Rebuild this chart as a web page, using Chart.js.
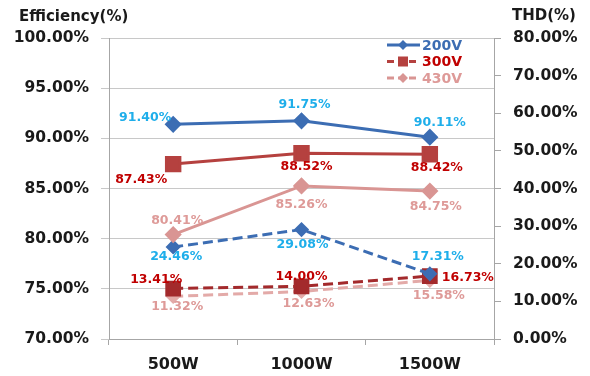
<!DOCTYPE html>
<html>
<head>
<meta charset="utf-8">
<script src="https://cdn.jsdelivr.net/npm/chart.js@4"></script>
<style>
  html, body { margin: 0; padding: 0; background: #ffffff; }
  #wrap { width: 590px; height: 376px; position: relative; }
</style>
</head>
<body>
<div id="wrap"><canvas id="c" width="590" height="376"></canvas></div>
<script>
// Load levels on the x axis
const categories = ['500W', '1000W', '1500W'];

// Efficiency (%) per input voltage — left axis
const eff200 = [91.40, 91.75, 90.11];
const eff300 = [87.43, 88.52, 88.42];
const eff430 = [80.41, 85.26, 84.75];

// THD (%) per input voltage — right axis
const thd200 = [24.46, 29.08, 17.31];
const thd300 = [13.41, 14.00, 16.73];
const thd430 = [11.32, 12.63, 15.58];

// Axis ranges
const effTicks = { min: 70, max: 100, step: 5 };
const thdTicks = { min: 0, max: 80, step: 10 };

const FONT = "'DejaVu Sans', Verdana, sans-serif";

const C200 = '#3C6DB3', C200L = '#1EAEEA';
const C300 = '#B5413F', C300D = '#A32A2C', C300L = '#C00000';
const C430 = '#D99593', C430D = '#E3AAA8', C430L = '#DE9A98';

// Value label placement relative to each point: [dx, dy, align]
const labelPlace = {
  e200: [[-2, -7, 'right'], [3, -16, 'center'], [10, -14, 'center']],
  e300: [[-32, 16, 'center'], [5, 14, 'center'], [7, 14, 'center']],
  e430: [[4, -14, 'center'], [0, 19, 'center'], [6, 16, 'center']],
  t200: [[3, 10, 'center'], [1, 15, 'center'], [8, -17, 'center']],
  t300: [[-17, -9, 'center'], [0, -10, 'center'], [12, 2, 'left']],
  t430: [[4, 10, 'center'], [7, 12, 'center'], [9, 15, 'center']]
};

function ds(key, label, data, axis, color, labelColor, style, radius, dashed) {
  return {
    key, label, data, yAxisID: axis,
    borderColor: color, backgroundColor: color,
    pointBackgroundColor: color, pointBorderColor: color,
    pointStyle: style, pointRadius: radius, pointHoverRadius: radius,
    borderWidth: 3, borderDash: dashed ? [10, 5] : [],
    tension: 0, fill: false, labelColor
  };
}

const datasets = [
  ds('e200', '200V', eff200, 'yEff', C200, C200L, 'rectRot', 6.5, false),
  ds('e300', '300V', eff300, 'yEff', C300, C300L, 'rect', 9.5, false),
  ds('e430', '430V', eff430, 'yEff', C430, C430L, 'rectRot', 6.5, false),
  ds('t200', '200V', thd200, 'yThd', C200, C200L, 'rectRot', 5.5, true),
  ds('t300', '300V', thd300, 'yThd', C300D, C300L, 'rect', 9, true),
  ds('t430', '430V', thd430, 'yThd', C430D, C430L, 'rectRot', 5.5, true)
];

// Draws the percentage label next to every point
const valueLabels = {
  id: 'valueLabels',
  afterDatasetsDraw(chart) {
    const ctx = chart.ctx;
    ctx.save();
    ctx.font = "bold 12.5px " + FONT;
    ctx.textBaseline = 'middle';
    chart.data.datasets.forEach((d, di) => {
      const meta = chart.getDatasetMeta(di);
      meta.data.forEach((pt, i) => {
        const [dx, dy, align] = labelPlace[d.key][i];
        ctx.fillStyle = d.labelColor;
        ctx.textAlign = align;
        ctx.fillText(d.data[i].toFixed(2) + '%', pt.x + dx, pt.y + dy);
      });
    });
    ctx.restore();
  }
};

// Axis titles and the legend box in the upper right of the plot
const decorations = {
  id: 'decorations',
  afterDraw(chart) {
    const ctx = chart.ctx;
    ctx.save();
    ctx.fillStyle = '#1a1a1a';
    ctx.font = "bold 15px " + FONT;
    ctx.textBaseline = 'middle';
    ctx.textAlign = 'left';
    ctx.fillText('Efficiency(%)', 19, 17);
    ctx.fillText('THD(%)', 512, 16);

    const entries = [
      { d: chart.data.datasets[0], text: C200, dash: [] },
      { d: chart.data.datasets[1], text: C300L, dash: [7, 4] },
      { d: chart.data.datasets[2], text: C430L, dash: [7, 4] }
    ];
    const area = chart.chartArea;
    const x0 = area.right - 107, y0 = area.top + 7;
    entries.forEach((e, i) => {
      const y = y0 + i * 16.5;
      ctx.strokeStyle = e.d.borderColor;
      ctx.lineWidth = 3;
      ctx.setLineDash(e.dash);
      ctx.beginPath();
      ctx.moveTo(x0, y);
      ctx.lineTo(x0 + 33, y);
      ctx.stroke();
      ctx.setLineDash([]);
      ctx.fillStyle = e.d.borderColor;
      const mx = x0 + 16;
      if (e.d.pointStyle === 'rect') {
        ctx.fillRect(mx - 5, y - 5, 10, 10);
      } else {
        ctx.beginPath();
        ctx.moveTo(mx, y - 5); ctx.lineTo(mx + 5, y);
        ctx.lineTo(mx, y + 5); ctx.lineTo(mx - 5, y);
        ctx.closePath(); ctx.fill();
      }
      ctx.fillStyle = e.text;
      ctx.font = "bold 14px " + FONT;
      ctx.textAlign = 'left';
      ctx.fillText(e.d.label, x0 + 35, y + 1);
    });
    ctx.restore();
  }
};

const tickFont = { family: FONT, size: 15.5, weight: 'bold' };

new Chart(document.getElementById('c'), {
  type: 'line',
  data: { labels: categories, datasets },
  options: {
    responsive: false,
    animation: false,
    devicePixelRatio: 1,
    layout: { padding: { top: 38, left: 0, right: 0, bottom: 0 } },
    plugins: { legend: { display: false }, tooltip: { enabled: false } },
    scales: {
      x: {
        offset: true,
        grid: { offset: true, drawOnChartArea: false, drawTicks: true, tickLength: 6, color: '#A6A6A6' },
        border: { color: '#A6A6A6', width: 1 },
        ticks: { color: '#1a1a1a', font: { family: FONT, size: 16, weight: 'bold' }, padding: 10 },
        afterFit(s) { s.height = 37; }
      },
      yEff: {
        position: 'left',
        min: effTicks.min, max: effTicks.max,
        ticks: {
          stepSize: effTicks.step, color: '#1a1a1a', font: tickFont, padding: 12,
          callback: v => v.toFixed(2) + '%'
        },
        grid: { color: '#C8C8C8', lineWidth: 1, tickLength: 8 },
        border: { color: '#A6A6A6', width: 1 },
        afterFit(s) { s.width = 109; }
      },
      yThd: {
        position: 'right',
        min: thdTicks.min, max: thdTicks.max,
        ticks: {
          stepSize: thdTicks.step, color: '#1a1a1a', font: tickFont, padding: 12,
          callback: v => v.toFixed(2) + '%'
        },
        grid: { drawOnChartArea: false, color: '#A6A6A6', tickLength: 7 },
        border: { color: '#A6A6A6', width: 1 },
        afterFit(s) { s.width = 96; }
      }
    }
  },
  plugins: [valueLabels, decorations]
});
</script>
</body>
</html>
